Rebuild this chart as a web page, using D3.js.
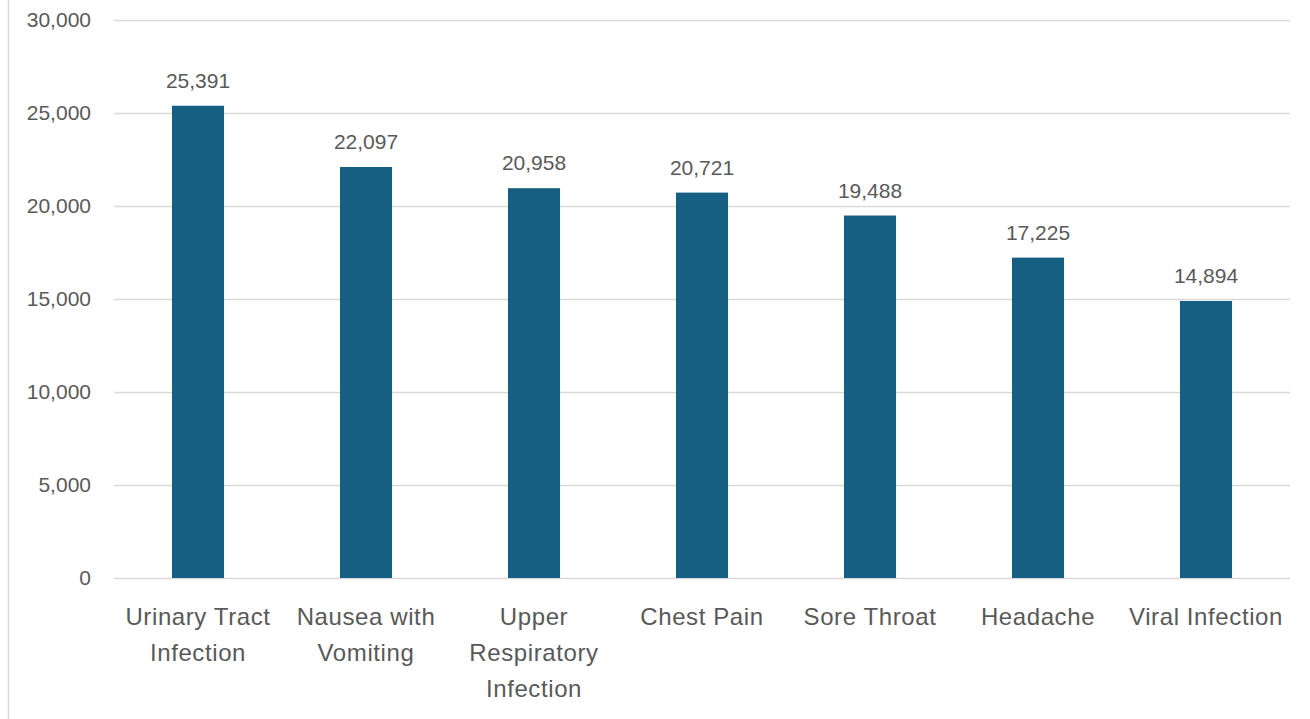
<!DOCTYPE html>
<html>
<head>
<meta charset="utf-8">
<script src="https://cdn.jsdelivr.net/npm/d3@7"></script>
<style>
  body { margin: 0; background: #fff; }
  svg { display: block; }
</style>
</head>
<body>
<svg id="chart" width="1310" height="719"></svg>
<script>
// categories and counts
const categories = [
  ['Urinary Tract', 'Infection'],
  ['Nausea with', 'Vomiting'],
  ['Upper', 'Respiratory', 'Infection'],
  ['Chest Pain'],
  ['Sore Throat'],
  ['Headache'],
  ['Viral Infection']
]
const counts = [25391, 22097, 20958, 20721, 19488, 17225, 14894]
const yTicks = [0, 5000, 10000, 15000, 20000, 25000, 30000]

const width = 1310
const height = 719
const margin = { top: 20, right: 20, bottom: 141, left: 114 }

const svg = d3.select('#chart')
const font = '"Liberation Sans", Arial, sans-serif'
const textColor = '#595959'

// frame line on the left
svg.append('line')
    .attr('x1', 8.5).attr('x2', 8.5)
    .attr('y1', 0).attr('y2', height)
    .attr('stroke', '#d9d9d9')
    .attr('stroke-width', 1.5)

let x = d3.scaleBand()
    .domain(d3.range(categories.length))
    .range([margin.left, width - margin.right])
    .paddingInner(0.69)
    .paddingOuter(0.345)

let y = d3.scaleLinear()
    .domain([0, 30000])
    .range([height - margin.bottom, margin.top])

// gridlines + y labels
let yAxis = svg.append('g')
    .attr('transform', `translate(${margin.left},0)`)
    .call(d3.axisLeft(y)
        .tickValues(yTicks)
        .tickSize(-(width - margin.left - margin.right))
        .tickPadding(23)
        .tickFormat(d3.format(',')))

yAxis.select('.domain').remove()
yAxis.selectAll('.tick line')
    .attr('stroke', '#d9d9d9')
    .attr('stroke-width', 1.5)
yAxis.selectAll('.tick text')
    .attr('fill', textColor)
    .style('font-family', font)
    .style('font-size', '21px')

// bars
svg.append('g')
  .selectAll('rect')
  .data(counts)
  .join('rect')
    .attr('x', (d, i) => x(i))
    .attr('y', d => y(d))
    .attr('width', x.bandwidth())
    .attr('height', d => y(0) - y(d))
    .attr('fill', '#156082')

// value labels
svg.append('g')
  .selectAll('text')
  .data(counts)
  .join('text')
    .attr('x', (d, i) => x(i) + x.bandwidth() / 2)
    .attr('y', d => y(d) - 18)
    .attr('text-anchor', 'middle')
    .attr('fill', textColor)
    .style('font-family', font)
    .style('font-size', '21px')
    .text(d => d3.format(',')(d))

// category labels, wrapped
let catLabels = svg.append('g')
  .selectAll('text')
  .data(categories)
  .join('text')
    .attr('x', (d, i) => x(i) + x.bandwidth() / 2)
    .attr('y', y(0) + 47)
    .attr('text-anchor', 'middle')
    .attr('fill', textColor)
    .style('font-family', font)
    .style('font-size', '24px')
    .style('letter-spacing', '0.6px')

catLabels.selectAll('tspan')
  .data(d => d)
  .join('tspan')
    .attr('x', function () { return this.parentNode.getAttribute('x') })
    .attr('dy', (d, i) => i === 0 ? 0 : 36)
    .text(d => d)
</script>
</body>
</html>
